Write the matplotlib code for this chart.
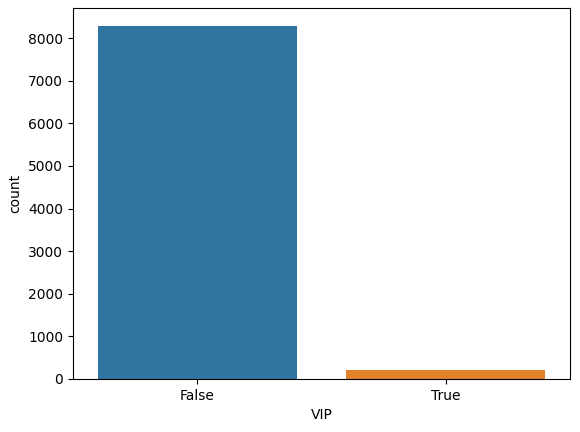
import matplotlib
matplotlib.use('Agg')
import matplotlib.pyplot as plt

# VIP counts
categories = ['False', 'True']
counts = [8291, 199]
colors = ['#3274a1', '#e1812c']

fig = plt.figure(figsize=(5.8, 4.32), dpi=100)
ax = fig.add_axes([0.126, 0.123, 0.857, 0.858])

ax.bar(range(len(categories)), counts, width=0.8, color=colors)
ax.set_xticks(range(len(categories)))
ax.set_xticklabels(categories)
ax.set_xlim(-0.5, len(categories) - 0.5)
ax.set_ylim(0, 8291 * 1.05)
ax.set_xlabel('VIP')
ax.set_ylabel('count')

fig.savefig('out.png', dpi=100)
